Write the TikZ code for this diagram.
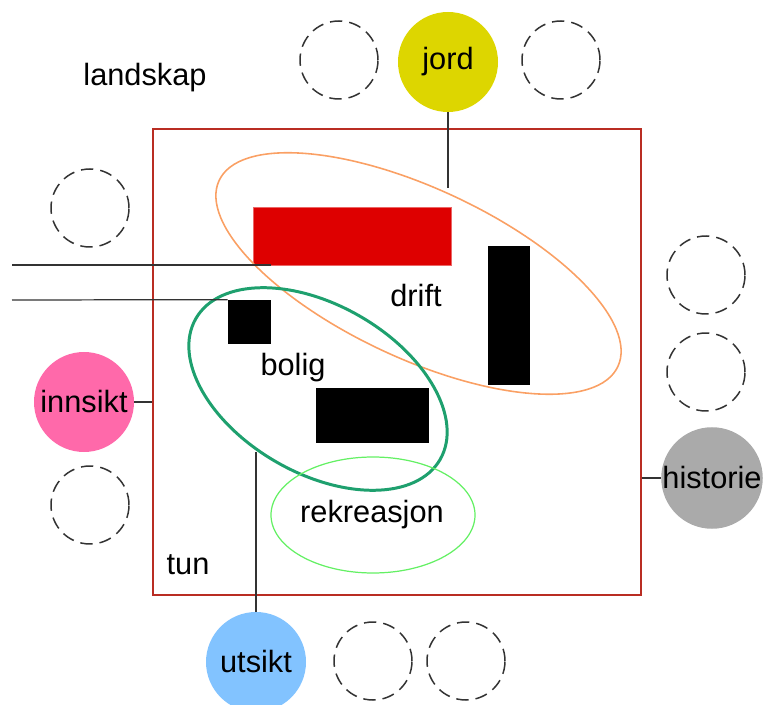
\documentclass[tikz,border=0pt]{standalone}
\usepackage{fontspec}
\setmainfont{Liberation Sans}
\usepackage{tikz}
\usetikzlibrary{shapes.geometric}
\definecolor{tunred}{RGB}{185, 45, 35}
\definecolor{driftorange}{RGB}{250, 160, 100}
\definecolor{boliggreen}{RGB}{30, 160, 110}
\definecolor{rekgreen}{RGB}{100, 240, 100}
\definecolor{jordyellow}{RGB}{221, 214, 0}
\definecolor{innpink}{RGB}{255, 105, 170}
\definecolor{histgray}{RGB}{170, 170, 170}
\definecolor{utblue}{RGB}{130, 195, 255}
\definecolor{barnred}{RGB}{222, 0, 0}

\tikzset{
    spot/.style={circle, minimum size=2cm, inner sep=0pt},
    emptyspot/.style={circle, draw=black!80, line width=0.85pt, dash pattern=on 7pt off 4pt, minimum size=1.56cm, inner sep=0pt},
    house/.style={fill=black, inner sep=0pt},
    label/.style={font=\fontsize{17.5}{21}\selectfont},
    link/.style={draw=black!80, line width=0.7pt}
}

\begin{document}
\begin{tikzpicture}
    \useasboundingbox (0,0) rectangle (15.5,14.08);

    % tun
    \node[draw=tunred, line width=0.8pt, minimum width=9.76cm, minimum height=9.32cm, inner sep=0pt] (tunbox) at (7.94, 6.84) {};
    \node[label] (tun) at (3.76, 2.78) {tun};
    \node[label] (landskap) at (2.9, 12.52) {landskap};

    % bygninger
    \node[fill=barnred, draw=barnred!60, minimum width=3.96cm, minimum height=1.16cm, inner sep=0pt] (barn) at (7.04, 9.36) {};
    \node[house, minimum width=0.86cm, minimum height=0.88cm] (house) at (4.99, 7.64) {};
    \node[house, minimum width=0.84cm, minimum height=2.78cm] (shed) at (10.18, 7.77) {};
    \node[house, minimum width=2.26cm, minimum height=1.1cm] (annex) at (7.45, 5.77) {};

    % soner
    \node[ellipse, draw=driftorange, line width=0.9pt, rotate=-25, minimum width=8.8cm, minimum height=3.4cm] (driftzone) at (8.37, 8.61) {};
    \node[ellipse, draw=boliggreen, line width=1.7pt, rotate=-30, minimum width=5.64cm, minimum height=3.36cm] (boligzone) at (6.36, 6.3) {};
    \node[ellipse, draw=rekgreen, line width=0.7pt, minimum width=4.08cm, minimum height=2.32cm] (rekzone) at (7.46, 3.78) {};
    \node[label] (drift) at (8.32, 8.16) {drift};
    \node[label] (bolig) at (5.86, 6.72) {bolig};
    \node[label] (rekreasjon) at (7.44, 3.78) {rekreasjon};

    % veier inn
    \coordinate (roadA) at (0.24, 8.78);
    \coordinate (roadB) at (0.24, 8.08);
    \draw[link] (roadA) -- (roadA -| house.east);
    \draw[link] (roadB) -- (house.north west);

    % kvaliteter
    \node[spot, fill=jordyellow, label] (jord) at (8.96, 12.84) {jord};
    \node[spot, fill=innpink, label] (innsikt) at (1.68, 6.04) {innsikt};
    \node[spot, fill=histgray, label] (historie) at (14.24, 4.52) {historie};
    \node[spot, fill=utblue, label] (utsikt) at (5.12, 0.84) {utsikt};

    \coordinate (driftTop) at (8.96, 10.32);
    \coordinate (boligLow) at (5.12, 5.04);
    \draw[link] (jord) -- (driftTop);
    \draw[link] (innsikt) -- (innsikt -| tunbox.west);
    \draw[link] (historie) -- (historie -| tunbox.east);
    \draw[link] (utsikt) -- (boligLow);

    % tomme plasser
    \node[emptyspot] (e1) at (6.78, 12.88) {};
    \node[emptyspot] (e2) at (11.22, 12.88) {};
    \node[emptyspot] (e3) at (1.8, 9.92) {};
    \node[emptyspot] (e4) at (14.12, 8.58) {};
    \node[emptyspot] (e5) at (14.12, 6.64) {};
    \node[emptyspot] (e6) at (1.8, 3.98) {};
    \node[emptyspot] (e7) at (7.46, 0.86) {};
    \node[emptyspot] (e8) at (9.32, 0.86) {};
\end{tikzpicture}
\end{document}
